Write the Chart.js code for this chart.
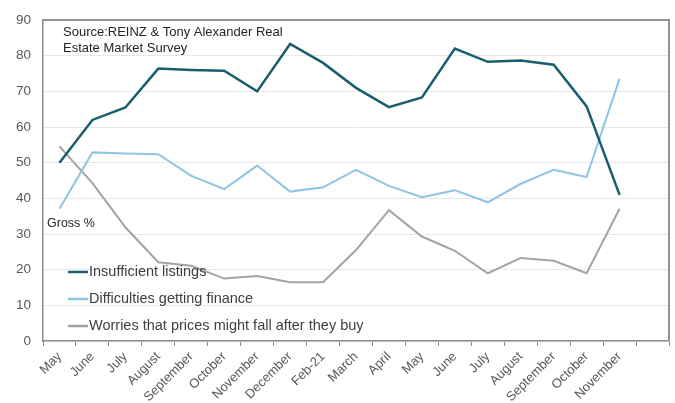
<!DOCTYPE html>
<html>
<head>
<meta charset="utf-8">
<script src="https://cdn.jsdelivr.net/npm/chart.js@4.4.0/dist/chart.umd.min.js"></script>
<style>
  html, body { margin: 0; padding: 0; background: #fff; }
  #wrap { width: 675px; height: 403px; position: relative; }
</style>
</head>
<body>
<div id="wrap"><canvas id="buyersChart" width="675" height="403"></canvas></div>
<script>
// Month labels (last slot is an empty category, as in the original)
const months = ['May', 'June', 'July', 'August', 'September', 'October', 'November', 'December',
    'Feb-21', 'March', 'April', 'May', 'June', 'July', 'August', 'September', 'October', 'November', ''];

const insufficientListings = [50, 62, 65.5, 76.4, 76, 75.8, 70, 83.3, 78, 71, 65.6, 68.3, 82, 78.3, 78.7, 77.5, 65.8, 41];
const financeDifficulties = [37.1, 52.9, 52.6, 52.4, 46.3, 42.6, 49.2, 41.9, 43.1, 48, 43.5, 40.3, 42.3, 38.9, 44.1, 48, 46, 73.6];
const pricesFallWorries = [54.6, 44.3, 31.9, 22.1, 21.1, 17.5, 18.2, 16.5, 16.5, 25.5, 36.7, 29.3, 25.3, 19, 23.3, 22.5, 19, 37.1];

const yTicks = [0, 10, 20, 30, 40, 50, 60, 70, 80, 90];

const legendItems = [
    { text: 'Insufficient listings', color: '#1b5e70' },
    { text: 'Difficulties getting finance', color: '#8ec5e4' },
    { text: 'Worries that prices might fall after they buy', color: '#a3a3a3' }
];

const FONT = '"Liberation Sans", Arial, sans-serif';

// draws frame, notes and the in-plot legend
const extrasPlugin = {
    id: 'extras',
    afterDraw(chart) {
        const ctx = chart.ctx;
        const a = chart.chartArea;
        ctx.save();
        // top and right frame
        ctx.strokeStyle = '#939393';
        ctx.lineWidth = 2;
        ctx.beginPath();
        ctx.moveTo(a.left, a.top);
        ctx.lineTo(a.right, a.top);
        ctx.lineTo(a.right, a.bottom);
        ctx.stroke();

        ctx.fillStyle = '#262626';
        ctx.font = '13px ' + FONT;
        ctx.textBaseline = 'middle';
        ctx.textAlign = 'left';
        ctx.fillText('Source:REINZ & Tony Alexander Real', 63, 32);
        ctx.fillText('Estate Market Survey', 63, 48);

        ctx.font = '12.5px ' + FONT;
        ctx.fillText('Gross %', 47, 224);

        ctx.font = '14.5px ' + FONT;
        legendItems.forEach((item, i) => {
            const y = 272 + i * 27;
            ctx.strokeStyle = item.color;
            ctx.lineWidth = 2.5;
            ctx.beginPath();
            ctx.moveTo(68, y);
            ctx.lineTo(88, y);
            ctx.stroke();
            ctx.fillStyle = '#404040';
            ctx.fillText(item.text, 89, y);
        });
        ctx.restore();
    }
};

const ctx = document.getElementById('buyersChart').getContext('2d');
const buyersChart = new Chart(ctx, {
    type: 'line',
    data: {
        labels: months,
        datasets: [{
            label: legendItems[0].text,
            data: insufficientListings,
            borderColor: legendItems[0].color,
            borderWidth: 2.5
        }, {
            label: legendItems[1].text,
            data: financeDifficulties,
            borderColor: legendItems[1].color,
            borderWidth: 2
        }, {
            label: legendItems[2].text,
            data: pricesFallWorries,
            borderColor: legendItems[2].color,
            borderWidth: 2
        }]
    },
    options: {
        responsive: false,
        animation: false,
        elements: { point: { radius: 0 }, line: { tension: 0 } },
        layout: { padding: { top: 16, right: 6, left: 0, bottom: 0 } },
        plugins: {
            legend: { display: false },
            tooltip: { enabled: false }
        },
        scales: {
            x: {
                offset: true,
                grid: {
                    offset: true,
                    drawOnChartArea: false,
                    drawTicks: true,
                    tickLength: 5,
                    color: '#8c8c8c'
                },
                border: { color: '#8c8c8c', width: 1.5 },
                ticks: {
                    autoSkip: false,
                    maxRotation: 45,
                    minRotation: 45,
                    color: '#595959',
                    font: { family: FONT, size: 13 },
                    padding: 3
                },
                afterFit(scale) { scale.height = 62; }
            },
            y: {
                min: 0,
                max: 90,
                afterBuildTicks(scale) { scale.ticks = yTicks.map(v => ({ value: v })); },
                grid: {
                    color: '#e8e8e8',
                    lineWidth: 1,
                    drawTicks: false
                },
                border: { color: '#8c8c8c', width: 1.5 },
                ticks: {
                    color: '#595959',
                    font: { family: FONT, size: 13.5 },
                    padding: 12
                },
                afterFit(scale) { scale.width = 43; }
            }
        }
    },
    plugins: [extrasPlugin]
});
</script>
</body>
</html>
